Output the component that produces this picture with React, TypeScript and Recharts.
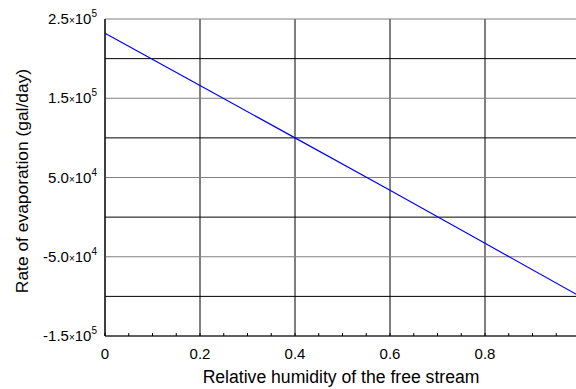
import React from "react";
import {
  LineChart,
  Line,
  XAxis,
  YAxis,
  ReferenceLine,
} from "recharts";

// values
const humidity = [0, 0.2, 0.4, 0.6, 0.8, 1];
const evaporation = [232000, 166000, 100000, 34000, -33000, -100000];

const xTicks = [0, 0.2, 0.4, 0.6, 0.8, 1];
const xTickLabels = ["0", "0.2", "0.4", "0.6", "0.8", "1"];
const xMinorTicks = [
  0, 0.05, 0.1, 0.15, 0.2, 0.25, 0.3, 0.35, 0.4, 0.45, 0.5,
  0.55, 0.6, 0.65, 0.7, 0.75, 0.8, 0.85, 0.9, 0.95, 1,
];
const yTicks = [-150000, -100000, -50000, 0, 50000, 100000, 150000, 200000, 250000];
// mantissa / exponent for labelled ticks, null = no label
const yMantissa = ["-1.5", null, "-5.0", null, "5.0", null, "1.5", null, "2.5"];
const yExponent = ["5", null, "4", null, "4", null, "5", null, "5"];

const data = humidity.map(function (h, i) {
  return { h: h, rate: evaporation[i] };
});

const FONT = "'Liberation Sans', Arial, sans-serif";

function YTick(props: any) {
  const { x, y, payload } = props;
  const i = yTicks.indexOf(payload.value);
  if (i < 0 || yMantissa[i] === null) return null;
  return (
    <text x={x} y={y + 5} textAnchor="end" fontFamily={FONT} fontSize={15} fill="#000">
      {yMantissa[i]}
      <tspan fontSize={10}>×</tspan>
      10
      <tspan fontSize={10} dy={-7}>{yExponent[i]}</tspan>
    </text>
  );
}

function XTick(props: any) {
  const { x, payload } = props;
  const i = xTicks.indexOf(payload.value);
  if (i < 0) return null;
  return (
    <text x={x} y={359} textAnchor="middle" fontFamily={FONT} fontSize={15} fill="#000">
      {xTickLabels[i]}
    </text>
  );
}

export default function App() {
  return (
    <div style={{ position: "absolute", left: 0, top: 0, width: 576, height: 389, overflow: "hidden", background: "#fff" }}>
      <LineChart
        width={600}
        height={389}
        data={data}
        margin={{ top: 19, right: 20, bottom: 18, left: 0 }}
      >
        <XAxis
          xAxisId="top"
          orientation="top"
          dataKey="h"
          type="number"
          domain={[0, 1]}
          ticks={xMinorTicks}
          height={0}
          tick={false}
          tickSize={-3}
          tickLine={{ stroke: "#000" }}
          axisLine={{ stroke: "#000" }}
        />
        <XAxis
          dataKey="h"
          type="number"
          domain={[0, 1]}
          ticks={xMinorTicks}
          interval={0}
          height={35}
          tick={<XTick />}
          tickSize={-3}
          tickLine={{ stroke: "#000" }}
          axisLine={{ stroke: "#000" }}
          label={{
            content: function () {
              return (
                <text x={341} y={383} textAnchor="middle" fontFamily={FONT} fontSize={17.6} fill="#000">
                  Relative humidity of the free stream
                </text>
              );
            },
          }}
        />
        <YAxis
          type="number"
          domain={[-150000, 250000]}
          ticks={yTicks}
          interval={0}
          width={105}
          tick={<YTick />}
          tickLine={false}
          axisLine={{ stroke: "#000" }}
          label={{
            content: function () {
              return (
                <text
                  x={28}
                  y={181}
                  transform="rotate(-90, 28, 181)"
                  textAnchor="middle"
                  fontFamily={FONT}
                  fontSize={17.4}
                  fill="#000"
                >
                  Rate of evaporation (gal/day)
                </text>
              );
            },
          }}
        />
        {xTicks.map(function (t) {
          return <ReferenceLine key={"vx" + t} x={t} stroke="#000" strokeWidth={1} />;
        })}
        {yTicks.map(function (t, i) {
          return (
            <ReferenceLine
              key={"hy" + t}
              y={t}
              stroke={yMantissa[i] === null ? "#000" : "#808080"}
              strokeWidth={1}
            />
          );
        })}
        <Line
          type="linear"
          dataKey="rate"
          stroke="#0000ff"
          strokeWidth={1.2}
          dot={false}
          activeDot={false}
          isAnimationActive={false}
        />
      </LineChart>
    </div>
  );
}
